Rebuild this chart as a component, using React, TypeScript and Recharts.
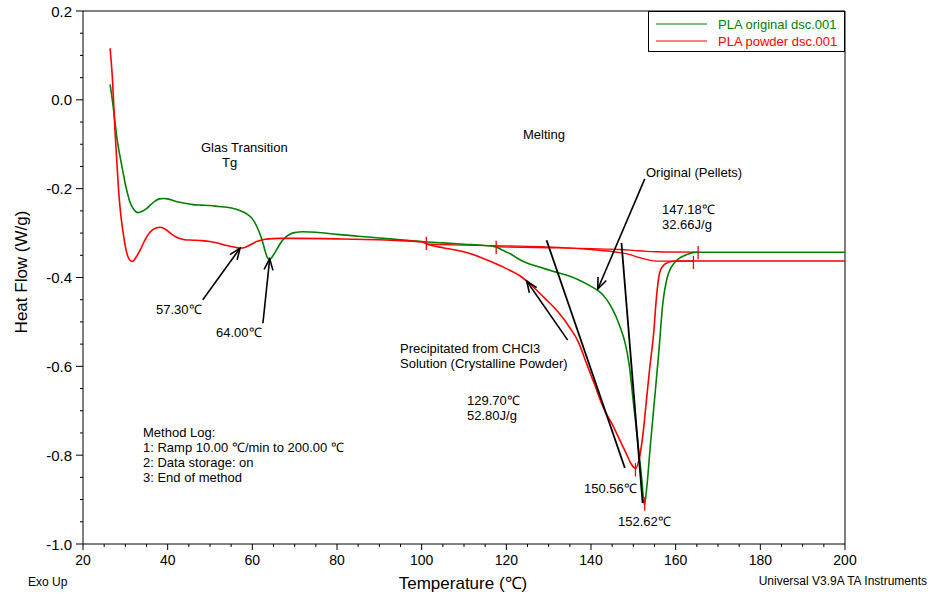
import React from 'react'
import { LineChart, Line, XAxis, YAxis, ReferenceLine, Legend } from 'recharts'

// PLA original (pellets), green trace
const greenTemp = [26.4, 27, 27.5, 28, 28.5, 29, 29.5, 30, 30.5, 31, 32, 33, 34, 35, 36, 37, 38, 39, 40, 42, 44, 46, 48, 50, 52, 54, 56, 57, 58, 59, 60, 61, 62, 62.5, 63, 63.5, 64, 64.5, 65, 66, 67, 68, 69, 70, 72, 75, 80, 85, 90, 95, 100, 105, 110, 115, 117.5, 119, 121, 123, 125, 128, 131, 134, 137, 140, 142, 143.5, 145, 146, 147, 148, 149, 150, 151, 152, 152.6, 153.2, 154, 155, 156, 157, 158, 159, 160, 161, 162, 163, 164, 165, 170, 180, 190, 200]
const greenFlow = [0.035, -0.005, -0.045, -0.085, -0.115, -0.14, -0.165, -0.19, -0.21, -0.228, -0.247, -0.254, -0.251, -0.245, -0.236, -0.228, -0.223, -0.222, -0.223, -0.229, -0.233, -0.236, -0.237, -0.238, -0.24, -0.242, -0.246, -0.249, -0.253, -0.259, -0.268, -0.284, -0.307, -0.322, -0.34, -0.354, -0.359, -0.356, -0.349, -0.333, -0.318, -0.308, -0.302, -0.299, -0.297, -0.298, -0.303, -0.307, -0.311, -0.315, -0.319, -0.322, -0.325, -0.328, -0.331, -0.338, -0.347, -0.359, -0.368, -0.377, -0.386, -0.394, -0.405, -0.42, -0.432, -0.447, -0.47, -0.49, -0.515, -0.545, -0.595, -0.68, -0.765, -0.855, -0.912, -0.87, -0.78, -0.676, -0.57, -0.455, -0.4, -0.376, -0.364, -0.356, -0.351, -0.347, -0.344, -0.343, -0.343, -0.343, -0.343, -0.343]

// PLA powder (precipitated from CHCl3), red trace
const redTemp = [26.4, 27, 27.5, 28, 28.5, 29, 29.5, 30, 30.5, 31, 31.7, 32.5, 33.5, 34.5, 35.5, 36.5, 37.5, 38.2, 39, 40, 41, 42, 43, 44, 46, 48, 50, 52, 54, 56, 57.2, 58, 59, 60, 61, 62, 63, 64, 66, 70, 80, 90, 95, 100, 102, 105, 108, 111, 114, 117, 120, 123, 126, 129, 132, 135, 137, 139, 141, 143, 145, 147, 148.5, 149.5, 150.5, 151.5, 152.3, 153.1, 153.9, 154.8, 155.4, 156.2, 157, 158, 159, 160, 162, 170, 180, 190, 200]
const redFlow = [0.116, 0.04, -0.06, -0.14, -0.215, -0.265, -0.3, -0.33, -0.35, -0.36, -0.364, -0.355, -0.338, -0.318, -0.302, -0.292, -0.288, -0.287, -0.289, -0.295, -0.303, -0.309, -0.313, -0.315, -0.316, -0.317, -0.319, -0.323, -0.328, -0.332, -0.334, -0.333, -0.329, -0.324, -0.319, -0.316, -0.314, -0.313, -0.312, -0.312, -0.313, -0.315, -0.317, -0.32, -0.327, -0.333, -0.338, -0.345, -0.355, -0.367, -0.38, -0.395, -0.418, -0.446, -0.475, -0.513, -0.545, -0.595, -0.645, -0.695, -0.73, -0.77, -0.8, -0.82, -0.83, -0.803, -0.751, -0.676, -0.601, -0.526, -0.451, -0.39, -0.374, -0.367, -0.364, -0.363, -0.363, -0.363, -0.363, -0.363, -0.363]

// integration baselines drawn by the analysis software
const powderBaseTemp = [101.1, 110, 120, 129.5, 140, 146.8, 149, 151, 153, 155.4, 164.2]
const powderBase = [-0.325, -0.327, -0.329, -0.331, -0.337, -0.344, -0.348, -0.354, -0.359, -0.363, -0.363]
const originalBaseTemp = [117.6, 130, 140, 146.8, 150, 153, 155.4, 165.3]
const originalBase = [-0.331, -0.333, -0.335, -0.337, -0.339, -0.341, -0.342, -0.343]

// limit / peak markers
const markTemp = [101.1, 117.6, 150.5, 152.7, 164.2, 165.3]
const markFlow = [-0.323, -0.332, -0.833, -0.91, -0.366, -0.344]

// annotation arrows [from, to] and onset tangents
const arrows = [
  [[48.3, -0.45], [57.1, -0.334]],
  [[62.5, -0.503], [64.1, -0.358]],
  [[152.7, -0.178], [141.6, -0.426]],
  [[134.5, -0.541], [124.8, -0.408]],
]
const tangents = [
  [[129.5, -0.316], [148, -0.829]],
  [[147.2, -0.322], [152.2, -0.908]],
]

const xTicks = [20, 25, 30, 35, 40, 45, 50, 55, 60, 65, 70, 75, 80, 85, 90, 95, 100, 105, 110, 115, 120, 125, 130, 135, 140, 145, 150, 155, 160, 165, 170, 175, 180, 185, 190, 195, 200]
const yTicks = [-1, -0.95, -0.9, -0.85, -0.8, -0.75, -0.7, -0.65, -0.6, -0.55, -0.5, -0.45, -0.4, -0.35, -0.3, -0.25, -0.2, -0.15, -0.1, -0.05, 0, 0.05, 0.1, 0.15, 0.2]

const seriesNames = ['PLA original dsc.001', 'PLA powder dsc.001']
const GREEN = '#008000'
const RED = '#ff0000'
const FONT = '"Liberation Sans", Arial, sans-serif'

const zip = (t: number[], v: number[]) => t.map((x, i) => ({ t: x, v: v[i] }))

const greenData = zip(greenTemp, greenFlow)
const redData = zip(redTemp, redFlow)
const powderBaseData = zip(powderBaseTemp, powderBase)
const originalBaseData = zip(originalBaseTemp, originalBase)

function XTick({ x, y, payload }: any) {
  const v = payload.value
  const major = v % 20 === 0
  return (
    <g>
      <line x1={x} x2={x} y1={y} y2={y + (major ? 6 : 3)} stroke="#000" />
      {major && (
        <text x={x} y={y + 16} textAnchor="middle" dominantBaseline="central" fontSize={14} fontFamily={FONT} fill="#000">
          {v}
        </text>
      )}
    </g>
  )
}

function YTick({ x, y, payload }: any) {
  const v = payload.value
  const major = Math.abs(v * 5 - Math.round(v * 5)) < 1e-6
  return (
    <g>
      <line x1={x - (major ? 7 : 3)} x2={x} y1={y} y2={y} stroke="#000" />
      {major && (
        <text x={x - 11} y={y} textAnchor="end" dominantBaseline="central" fontSize={15} fontFamily={FONT} fill="#000">
          {v.toFixed(1)}
        </text>
      )}
    </g>
  )
}

function ArrowShape(props: any) {
  const { x1, y1, x2, y2 } = props
  const a = Math.atan2(y2 - y1, x2 - x1)
  const len = 12
  const spread = 0.38
  const h1x = x2 - len * Math.cos(a - spread)
  const h1y = y2 - len * Math.sin(a - spread)
  const h2x = x2 - len * Math.cos(a + spread)
  const h2y = y2 - len * Math.sin(a + spread)
  return (
    <g stroke="#000" strokeWidth={1.6} fill="none">
      <line x1={x1} y1={y1} x2={x2} y2={y2} />
      <polyline points={`${h1x},${h1y} ${x2},${y2} ${h2x},${h2y}`} />
    </g>
  )
}

function LegendBox() {
  const colors = [GREEN, RED]
  return (
    <svg width={197} height={41} style={{ display: 'block' }}>
      <rect x={0.5} y={0.5} width={196} height={40} fill="#fff" stroke="#000" />
      {seriesNames.map((name, i) => (
        <g key={name}>
          <line x1={8} x2={59} y1={13 + i * 17} y2={13 + i * 17} stroke={colors[i]} />
          <text x={70} y={13 + i * 17} dominantBaseline="central" fontSize={13} fontFamily={FONT} fill={colors[i]}>
            {name}
          </text>
        </g>
      ))}
    </svg>
  )
}

const notes: [string, number, number, ('start' | 'middle' | 'end')?][] = [
  ['Glas Transition', 201, 147],
  ['Tg', 222, 162],
  ['Melting', 523, 134],
  ['Original (Pellets)', 646, 172],
  ['147.18℃', 662, 209],
  ['32.66J/g', 662, 224],
  ['57.30℃', 156, 309],
  ['64.00℃', 216, 332],
  ['Precipitated from CHCl3', 400, 348],
  ['Solution (Crystalline Powder)', 400, 363],
  ['129.70℃', 467, 400],
  ['52.80J/g', 467, 415],
  ['150.56℃', 584, 488],
  ['152.62℃', 618, 521],
  ['Method Log:', 143, 432],
  ['1: Ramp 10.00 ℃/min to 200.00 ℃', 143, 447],
  ['2: Data storage: on', 143, 462],
  ['3: End of method', 143, 477],
  ['Exo Up', 28, 582],
  ['Universal V3.9A TA Instruments', 927, 581, 'end'],
]

export default function App() {
  return (
    <div style={{ position: 'absolute', left: 0, top: 0, width: 931, height: 597, background: '#fff', fontFamily: FONT }}>
      <LineChart width={931} height={597} margin={{ top: 11, right: 86, bottom: 23, left: 23 }}>
        <XAxis
          type="number"
          dataKey="t"
          domain={[20, 200]}
          ticks={xTicks}
          interval={0}
          height={30}
          tickSize={0}
          tickMargin={0}
          tickLine={false}
          tick={<XTick />}
          axisLine={{ stroke: '#000' }}
          allowDataOverflow
        />
        <YAxis
          type="number"
          dataKey="v"
          domain={[-1, 0.2]}
          ticks={yTicks}
          interval={0}
          width={60}
          tickSize={0}
          tickMargin={0}
          tickLine={false}
          tick={<YTick />}
          axisLine={{ stroke: '#000' }}
          allowDataOverflow
        />
        <ReferenceLine y={0.2} stroke="#000" />
        <ReferenceLine x={200} stroke="#000" />
        <Line data={originalBaseData} dataKey="v" type="monotone" stroke={RED} strokeWidth={1.3} dot={false} activeDot={false} isAnimationActive={false} legendType="none" />
        <Line data={powderBaseData} dataKey="v" type="monotone" stroke={RED} strokeWidth={1.3} dot={false} activeDot={false} isAnimationActive={false} legendType="none" />
        <Line data={greenData} name={seriesNames[0]} dataKey="v" type="monotone" stroke={GREEN} strokeWidth={1.6} dot={false} activeDot={false} isAnimationActive={false} />
        <Line data={redData} name={seriesNames[1]} dataKey="v" type="monotone" stroke={RED} strokeWidth={1.6} dot={false} activeDot={false} isAnimationActive={false} />
        {markTemp.map((t, i) => (
          <ReferenceLine
            key={'m' + i}
            segment={[{ x: t, y: markFlow[i] + 0.015 }, { x: t, y: markFlow[i] - 0.015 }]}
            stroke={RED}
            strokeWidth={1.3}
          />
        ))}
        {tangents.map((s, i) => (
          <ReferenceLine
            key={'t' + i}
            segment={[{ x: s[0][0], y: s[0][1] }, { x: s[1][0], y: s[1][1] }]}
            stroke="#000"
            strokeWidth={1.8}
          />
        ))}
        {arrows.map((s, i) => (
          <ReferenceLine
            key={'a' + i}
            segment={[{ x: s[0][0], y: s[0][1] }, { x: s[1][0], y: s[1][1] }]}
            shape={ArrowShape}
          />
        ))}
        <Legend
          layout="vertical"
          align="center"
          verticalAlign="middle"
          content={() => <LegendBox />}
          wrapperStyle={{ left: 648, top: 11, width: 197, height: 41 }}
        />
      </LineChart>
      <svg width={931} height={597} style={{ position: 'absolute', left: 0, top: 0, pointerEvents: 'none' }}>
        {notes.map(([txt, x, y, anchor]) => (
          <text key={txt} x={x} y={y} textAnchor={anchor || 'start'} dominantBaseline="central" fontSize={txt.startsWith('Universal') || txt === 'Exo Up' ? 12 : 13} fill="#000">
            {txt}
          </text>
        ))}
        <text x={21} y={272} transform="rotate(-90 21 272)" textAnchor="middle" dominantBaseline="central" fontSize={17} fill="#000">
          Heat Flow (W/g)
        </text>
        <text x={463} y={583} textAnchor="middle" dominantBaseline="central" fontSize={17} fill="#000">
          Temperature (℃)
        </text>
      </svg>
    </div>
  )
}
